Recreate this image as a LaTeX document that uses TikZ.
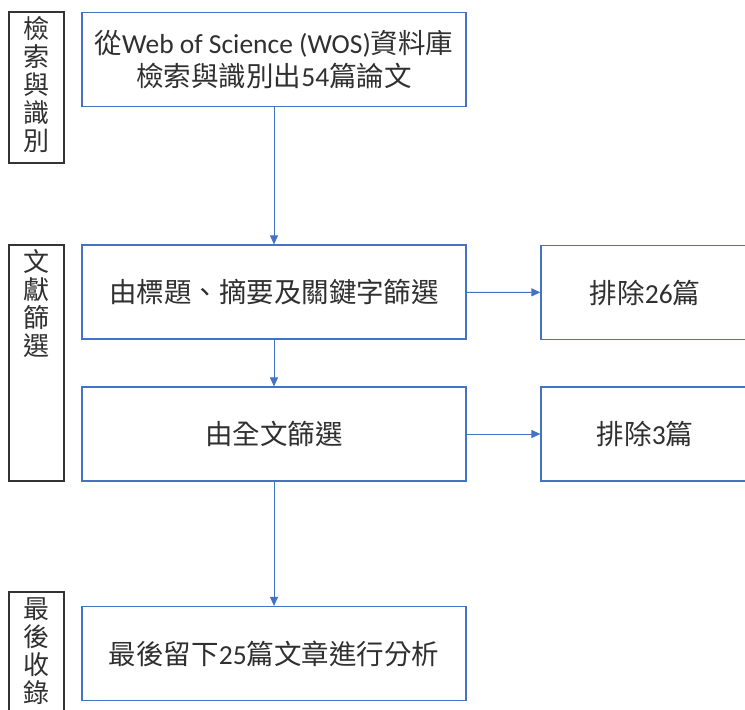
\documentclass[tikz,border=0pt]{standalone}
\usepackage{fontspec}
\setmainfont{Carlito}
\newfontfamily\cjk{Noto Sans CJK TC}
\newfontfamily\lat{Carlito}
\usetikzlibrary{arrows.meta}
\definecolor{boxblue}{HTML}{4472C4}
\definecolor{txt}{HTML}{303030}
\begin{document}
\begin{tikzpicture}[x=1pt,y=-1pt,
  mainbox/.style={draw=boxblue,line width=1.2pt,fill=white,minimum width=384pt,minimum height=94pt,inner sep=0pt,text=txt,font=\cjk\fontsize{27.5}{33}\selectfont,align=center},
  sidebox/.style={draw=boxblue,line width=1.2pt,fill=white,minimum width=208pt,minimum height=94pt,inner sep=0pt,text=txt,font=\cjk\fontsize{27.5}{33}\selectfont},
  stagebox/.style={draw=black!80,line width=1.2pt,minimum width=55pt,inner sep=0pt},
  stagetext/.style={anchor=north,inner sep=0pt,text=txt,align=center,font=\cjk\fontsize{26}{28}\selectfont},
  flow/.style={draw=boxblue,line width=1pt,-{Triangle[length=9pt,width=8pt]}}]
\useasboundingbox (0,0) rectangle (745,710);
\clip (0,0) rectangle (745,710);
% stage labels
\node[stagebox,minimum height=151pt] (L1) at (36.5,87.5) {};
\node[stagetext] (T1) at ([yshift=-5pt]L1.north) {檢\\索\\與\\識\\別};
\node[stagebox,minimum height=236pt] (L2) at (36.5,363) {};
\node[stagetext] (T2) at ([yshift=-5pt]L2.north) {文\\獻\\篩\\選};
\node[stagebox,minimum height=128pt] (L3) at (36.5,656) {};
\node[stagetext] (T3) at ([yshift=-6pt]L3.north) {最\\後\\收\\錄};
% main boxes
\node[mainbox] (B1) at (274,59.5) {從{\lat Web of Science (WOS)}資料庫\\檢索與識別出{\lat 54}篇論文};
\node[mainbox] (B2) at (274,292) {由標題、摘要及關鍵字篩選};
\node[mainbox] (B3) at (274,434) {由全文篩選};
\node[mainbox] (B4) at (274,653.5) {最後留下{\lat 25}篇文章進行分析};
\node[sidebox] (R1) at (645,292.5) {排除{\lat 26}篇};
\node[sidebox] (R2) at (645,434) {排除{\lat 3}篇};
% connectors
\draw[flow] (B1) -- (B2);
\draw[flow] (B2) -- (B3);
\draw[flow] (B3) -- (B4);
\draw[flow] (B2) -- (R1);
\draw[flow] (B3) -- (R2);
\end{tikzpicture}
\end{document}
